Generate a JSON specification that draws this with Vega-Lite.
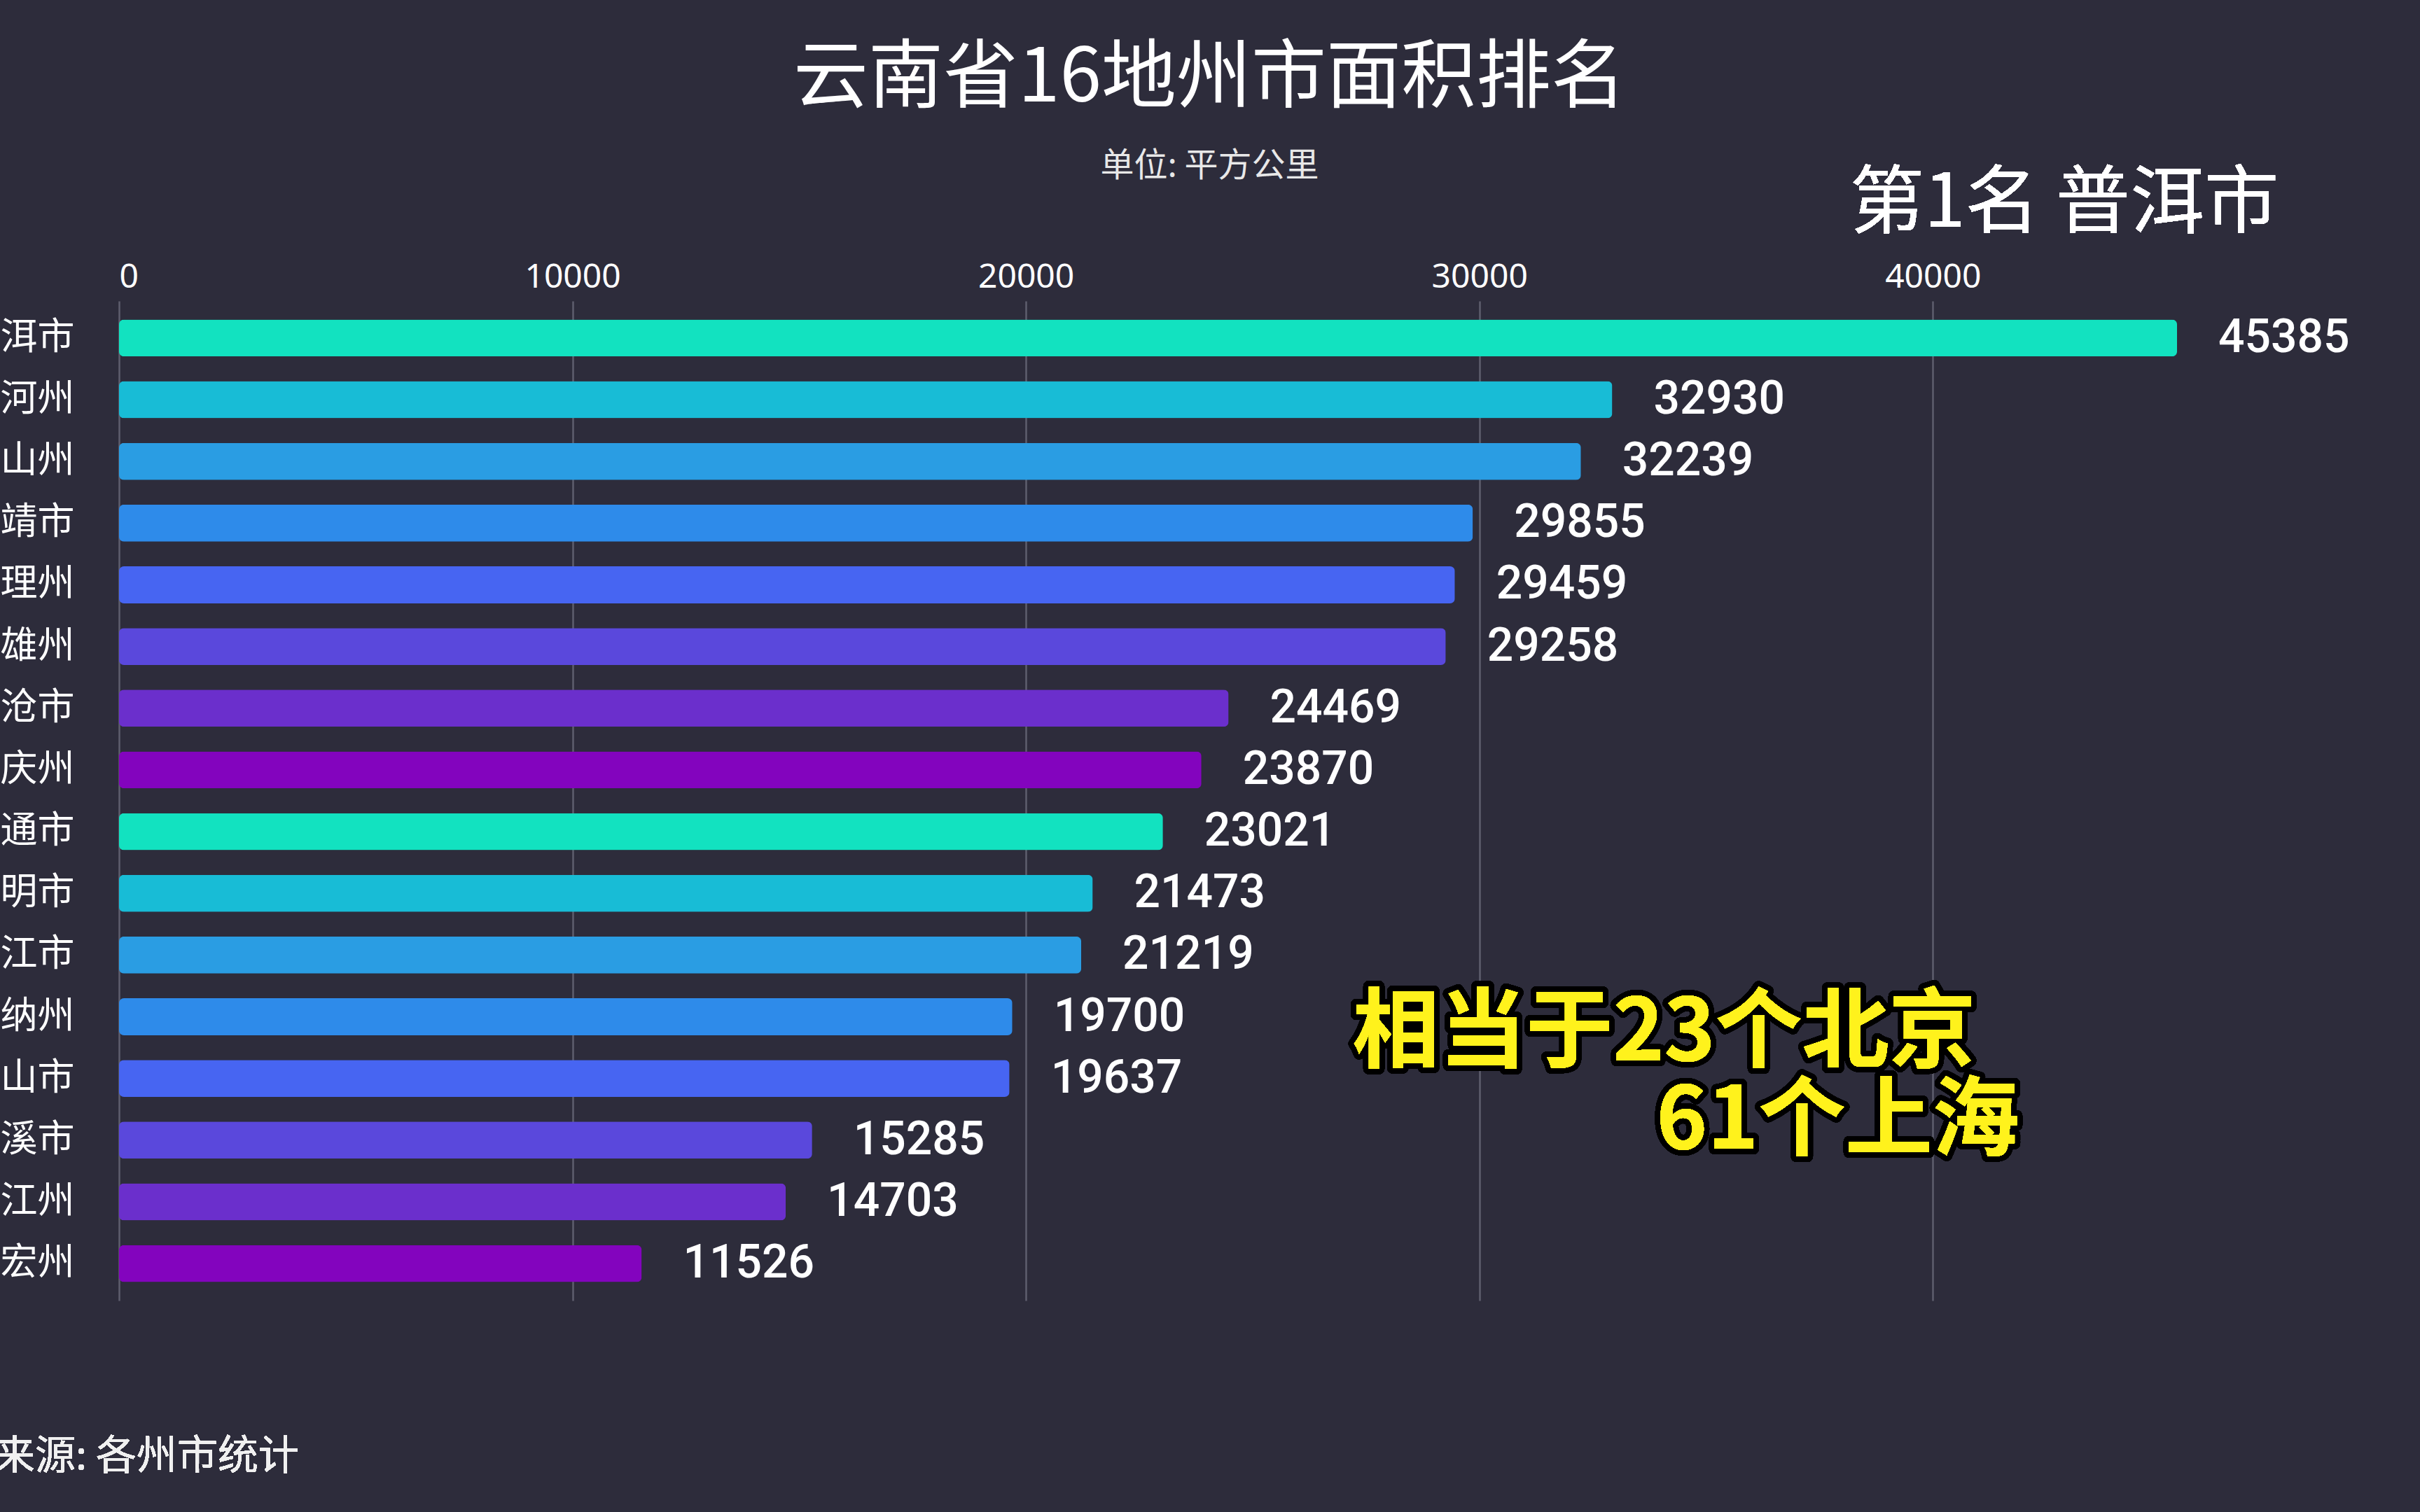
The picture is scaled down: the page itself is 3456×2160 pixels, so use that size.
{
  "$schema": "https://vega.github.io/schema/vega-lite/v6.json",
  "autosize": "none",
  "padding": {"left": 170, "top": 430, "right": 347, "bottom": 302},
  "width": 2939,
  "height": 1428,
  "background": "#2D2C3B",
  "config": {
    "view": {"stroke": null},
    "font": "Noto Sans CJK SC"
  },
  "title": {
    "text": "云南省16地州市面积排名",
    "subtitle": "单位: 平方公里",
    "anchor": "middle",
    "frame": "group",
    "dx": 88,
    "fontSize": 107,
    "fontWeight": "normal",
    "color": "#FFFFFF",
    "font": "Noto Sans CJK SC",
    "subtitleFont": "Noto Sans CJK SC",
    "subtitleFontSize": 48,
    "subtitleColor": "#E8E8E8",
    "subtitlePadding": 47,
    "offset": -24
  },
  "data": {
    "values": [
      {"name": "普洱市", "area": 45385},
      {"name": "红河州", "area": 32930},
      {"name": "文山州", "area": 32239},
      {"name": "曲靖市", "area": 29855},
      {"name": "大理州", "area": 29459},
      {"name": "楚雄州", "area": 29258},
      {"name": "临沧市", "area": 24469},
      {"name": "迪庆州", "area": 23870},
      {"name": "昭通市", "area": 23021},
      {"name": "昆明市", "area": 21473},
      {"name": "丽江市", "area": 21219},
      {"name": "西双版纳州", "area": 19700},
      {"name": "保山市", "area": 19637},
      {"name": "玉溪市", "area": 15285},
      {"name": "怒江州", "area": 14703},
      {"name": "德宏州", "area": 11526}
    ]
  },
  "encoding": {
    "y": {
      "field": "name",
      "type": "nominal",
      "sort": null,
      "scale": {
        "domain": ["普洱市", "红河州", "文山州", "曲靖市", "大理州", "楚雄州", "临沧市", "迪庆州", "昭通市", "昆明市", "丽江市", "西双版纳州", "保山市", "玉溪市", "怒江州", "德宏州"],
        "paddingInner": 0.4,
        "paddingOuter": 0.3
      },
      "axis": {
        "title": null,
        "ticks": false,
        "domain": false,
        "labelPadding": 64,
        "labelLimit": 1000,
        "labelFontSize": 53,
        "labelColor": "#FFFFFF",
        "labelFont": "Noto Sans CJK SC"
      }
    },
    "x": {
      "field": "area",
      "type": "quantitative",
      "scale": {"domain": [0, 45385], "nice": false},
      "axis": {
        "orient": "top",
        "title": null,
        "ticks": false,
        "domain": false,
        "values": [0, 10000, 20000, 30000, 40000],
        "format": "d",
        "labelPadding": 10,
        "labelFontSize": 48,
        "labelColor": "#FFFFFF",
        "labelFont": "Noto Sans",
        "gridColor": "#5E5E6E",
        "gridWidth": 2.5
      }
    }
  },
  "layer": [
    {
      "mark": {"type": "bar", "cornerRadius": 7},
      "encoding": {
        "color": {
          "field": "name",
          "type": "nominal",
          "legend": null,
          "scale": {
            "domain": ["普洱市", "红河州", "文山州", "曲靖市", "大理州", "楚雄州", "临沧市", "迪庆州", "昭通市", "昆明市", "丽江市", "西双版纳州", "保山市", "玉溪市", "怒江州", "德宏州"],
            "range": ["#12E2C0", "#18BCD6", "#2A9DE3", "#2E8BEA", "#4765F2", "#5A48DC", "#6B2FCC", "#8304BE", "#12E2C0", "#18BCD6", "#2A9DE3", "#2E8BEA", "#4765F2", "#5A48DC", "#6B2FCC", "#8304BE"]
          }
        }
      }
    },
    {
      "mark": {"type": "text", "align": "left", "baseline": "middle", "dx": 59, "font": "Roboto", "fontWeight": 500, "fontSize": 66, "color": "#FFFFFF"},
      "encoding": {"text": {"field": "area", "type": "quantitative", "format": "d"}}
    },
    {
      "mark": {"type": "text", "align": "center", "baseline": "middle", "dy": -191, "font": "Noto Sans CJK SC", "fontSize": 106, "color": "#FFFFFF"},
      "encoding": {
        "x": {"datum": 42900, "type": "quantitative"},
        "y": {"datum": "普洱市", "type": "nominal"},
        "text": {"value": "第1名 普洱市"}
      }
    },
    {
      "mark": {"type": "text", "align": "left", "baseline": "middle", "dy": 277, "font": "Noto Sans CJK SC", "fontSize": 58, "color": "#F0F0F0"},
      "encoding": {
        "x": {"datum": -4540, "type": "quantitative"},
        "y": {"datum": "德宏州", "type": "nominal"},
        "text": {"value": "数据来源: 各州市统计"}
      }
    },
    {
      "mark": {"type": "text", "align": "left", "baseline": "middle", "dy": 25, "font": "Noto Sans CJK SC", "fontWeight": "bold", "fontSize": 124, "color": "#000000", "stroke": "#000000", "strokeWidth": 16, "strokeJoin": "round"},
      "encoding": {
        "x": {"datum": 27200, "type": "quantitative"},
        "y": {"datum": "西双版纳州", "type": "nominal"},
        "text": {"value": "相当于23个北京"}
      }
    },
    {
      "mark": {"type": "text", "align": "left", "baseline": "middle", "dy": 25, "font": "Noto Sans CJK SC", "fontWeight": "bold", "fontSize": 124, "color": "#FFF21C"},
      "encoding": {
        "x": {"datum": 27200, "type": "quantitative"},
        "y": {"datum": "西双版纳州", "type": "nominal"},
        "text": {"value": "相当于23个北京"}
      }
    },
    {
      "mark": {"type": "text", "align": "left", "baseline": "middle", "dy": -25, "font": "Noto Sans CJK SC", "fontWeight": "bold", "fontSize": 124, "color": "#000000", "stroke": "#000000", "strokeWidth": 16, "strokeJoin": "round"},
      "encoding": {
        "x": {"datum": 33900, "type": "quantitative"},
        "y": {"datum": "玉溪市", "type": "nominal"},
        "text": {"value": "61个上海"}
      }
    },
    {
      "mark": {"type": "text", "align": "left", "baseline": "middle", "dy": -25, "font": "Noto Sans CJK SC", "fontWeight": "bold", "fontSize": 124, "color": "#FFF21C"},
      "encoding": {
        "x": {"datum": 33900, "type": "quantitative"},
        "y": {"datum": "玉溪市", "type": "nominal"},
        "text": {"value": "61个上海"}
      }
    }
  ]
}
